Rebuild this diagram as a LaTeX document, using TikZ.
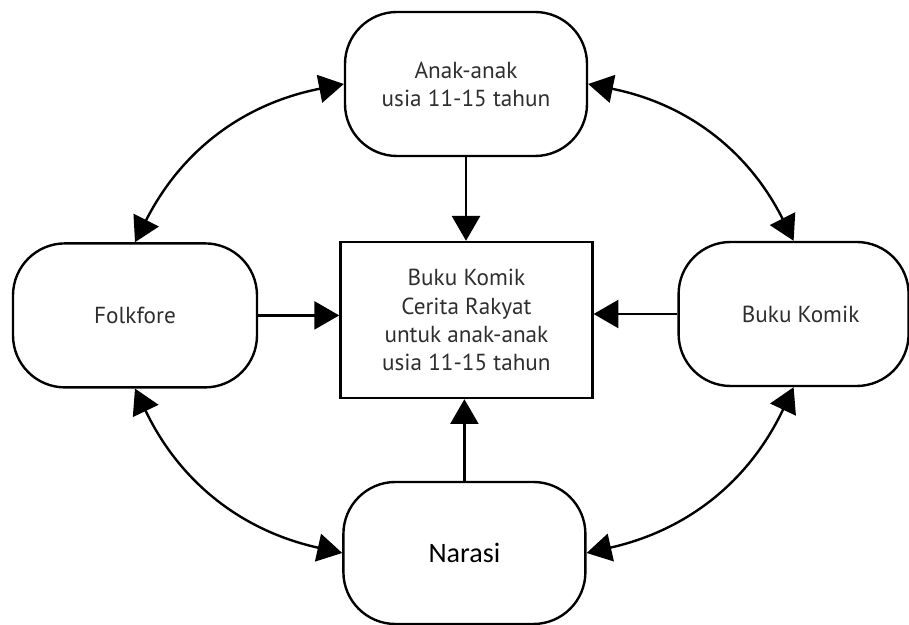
\documentclass[tikz,border=0pt]{standalone}
\usepackage{fontspec}
\setmainfont{PT Sans}
\newfontfamily\narasifont{Carlito}
\usetikzlibrary{arrows.meta}
\definecolor{textgray}{HTML}{2E2E2E}

\begin{document}
\begin{tikzpicture}[
  every node/.style={font=\fontsize{16.5}{20}\selectfont, text=textgray, align=center},
  roundbox/.style={draw, line width=1.7pt, rounded corners=1.3cm, minimum width=6.05cm, minimum height=3.6cm},
  centerbox/.style={draw, line width=1.7pt, minimum width=6.3cm, minimum height=3.9cm},
  link/.style={line width=1.7pt, -{Triangle[length=0.62cm, width=0.7cm]}},
  twoway/.style={line width=1.7pt, {Triangle[length=0.62cm, width=0.7cm]}-{Triangle[length=0.62cm, width=0.7cm]}}
]
\useasboundingbox (0,0) rectangle (22.725,15.625);
\node[roundbox] (anak) at (11.65,13.525) {Anak-anak\\usia 11-15 tahun};
\node[centerbox] (buku) at (11.66,7.625) {Buku Komik\\Cerita Rakyat\\untuk anak-anak\\usia 11-15 tahun};
\node[roundbox, minimum width=6.1cm] (folk) at (3.375,7.74) {Folkfore};
\node[roundbox, minimum width=5.75cm] (komik) at (19.84,7.775) {\hspace{0.35cm}Buku Komik};
\node[roundbox, minimum height=3.55cm, font=\narasifont\fontsize{20}{24}\selectfont, text=black] (narasi) at (11.61,1.8) {Narasi};

\draw[link] (anak.south) -- (anak.south |- buku.north);
\draw[link] (folk.east) -- (folk.east -| buku.west);
\draw[link] (komik.west) -- (komik.west -| buku.east);
\draw[link] (narasi.north) -- (narasi.north |- buku.south);

\draw[twoway] (anak.west) to[bend right=26] (folk.north);
\draw[twoway] (anak.east) to[bend left=26] (komik.north);
\draw[twoway] (folk.south) to[bend right=26] (narasi.west);
\draw[twoway] (komik.south) to[bend left=26] (narasi.east);
\end{tikzpicture}
\end{document}
